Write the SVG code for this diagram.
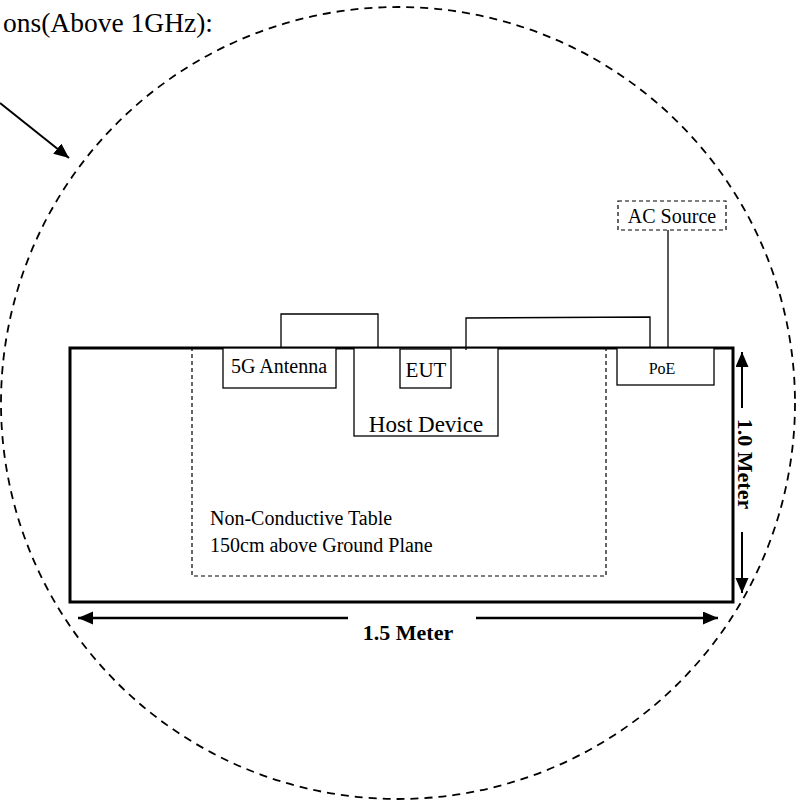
<svg xmlns="http://www.w3.org/2000/svg" width="800" height="801" viewBox="0 0 800 801">
<defs>
<style>
text{font-family:"Liberation Serif","Times New Roman",serif;fill:#000}
.box{fill:#fff;stroke:#000;stroke-width:1.3}
.wire{fill:none;stroke:#000;stroke-width:1.3}
.dash{fill:none;stroke:#000;stroke-width:1.2;stroke-dasharray:4 3}
.bold{font-weight:bold;font-size:22px}
</style>
<marker id="ah" markerUnits="userSpaceOnUse" markerWidth="16" markerHeight="14" refX="15" refY="6.5" orient="auto-start-reverse">
<path d="M0,0 L15,6.5 L0,13 z" fill="#000"/>
</marker>
</defs>
<rect width="800" height="801" fill="#fff"/>
<ellipse id="range" cx="398" cy="403" rx="397" ry="396" fill="none" stroke="#000" stroke-width="1.8" stroke-dasharray="8 6"/>
<text id="title" x="213" y="32" font-size="27.5" text-anchor="end">ons(Above 1GHz):</text>
<g id="table">
<rect x="70" y="348" width="663" height="254" fill="none" stroke="#000" stroke-width="3"/>
<rect x="192" y="348" width="414" height="228" class="dash"/>
<text x="210" y="525" font-size="20">Non-Conductive Table</text>
<text x="210" y="552" font-size="20">150cm above Ground Plane</text>
</g>
<g id="host">
<rect class="box" x="354" y="348" width="144" height="88"/>
<text x="426" y="432" font-size="23" text-anchor="middle">Host Device</text>
</g>
<g id="antenna">
<rect class="box" x="223" y="348" width="113" height="40"/>
<text x="279" y="373" font-size="20" text-anchor="middle">5G Antenna</text>
</g>
<g id="eut">
<rect class="box" x="400" y="349" width="51" height="39"/>
<text x="426" y="377" font-size="21" text-anchor="middle">EUT</text>
</g>
<g id="poe">
<rect class="box" x="617" y="348" width="97" height="37"/>
<text x="662" y="374" font-size="16" text-anchor="middle">PoE</text>
</g>
<g id="ac">
<rect x="618" y="201" width="108" height="29" fill="#fff" class="dash"/>
<text x="672" y="223" font-size="20" text-anchor="middle">AC Source</text>
</g>
<g id="connectors">
<polyline class="wire" points="281,348 281,314 378,314 378,348"/>
<polyline class="wire" points="466,350 466,318 650,317 650,348"/>
<line class="wire" x1="668" y1="230" x2="668" y2="348"/>
<line x1="0" y1="103" x2="69" y2="158" stroke="#000" stroke-width="2" marker-end="url(#ah)"/>
<line x1="78" y1="618" x2="348" y2="618" stroke="#000" stroke-width="2.5" marker-start="url(#ah)"/>
<line x1="476" y1="618" x2="718" y2="618" stroke="#000" stroke-width="2.5" marker-end="url(#ah)"/>
<line x1="742" y1="352" x2="742" y2="408" stroke="#000" stroke-width="2" marker-start="url(#ah)"/>
<line x1="742" y1="532" x2="742" y2="593" stroke="#000" stroke-width="2" marker-end="url(#ah)"/>
</g>
<text class="bold" x="408" y="640" text-anchor="middle">1.5 Meter</text>
<text class="bold" transform="translate(745,464) rotate(90)" x="0" y="7.5" text-anchor="middle">1.0 Meter</text>
</svg>
